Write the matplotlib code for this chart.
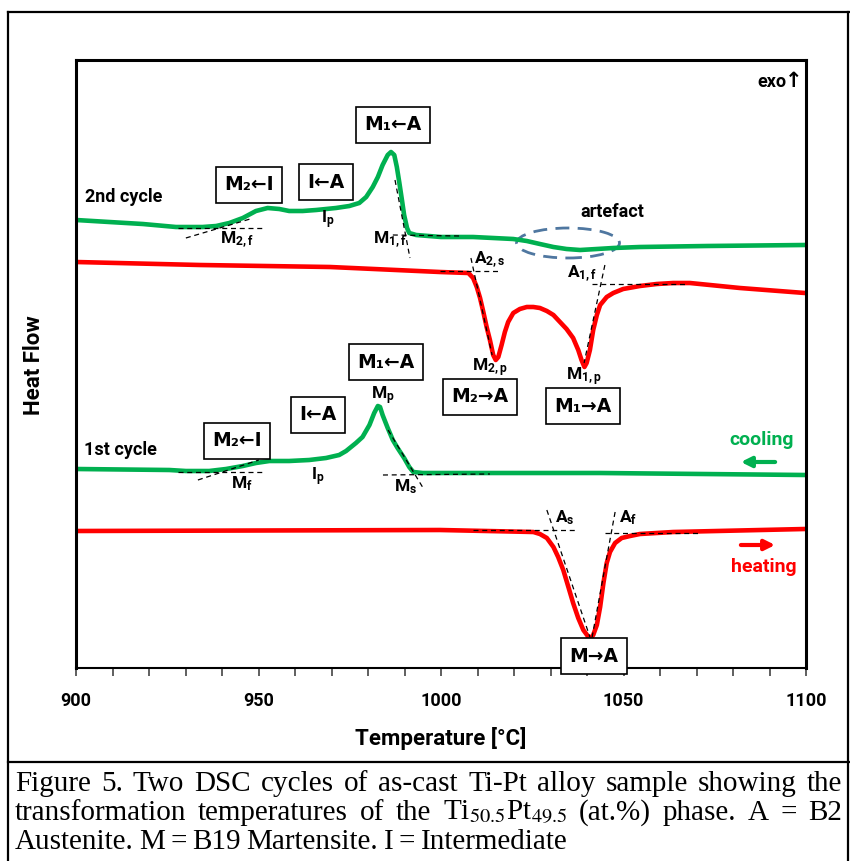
import numpy as np
import matplotlib
matplotlib.use('Agg')
import matplotlib.pyplot as plt
from matplotlib.patches import Ellipse
from matplotlib.lines import Line2D

plt.rcParams['font.family'] = ['Roboto', 'DejaVu Sans']
plt.rcParams['mathtext.fontset'] = 'custom'
plt.rcParams['mathtext.rm'] = 'Roboto:bold'
plt.rcParams['mathtext.bf'] = 'Roboto:bold'
plt.rcParams['mathtext.it'] = 'Roboto:bold'
plt.rcParams['mathtext.fallback'] = 'stixsans'

GREEN = '#00B050'
RED = '#FF0000'
B = dict(fontweight='bold')

# 2nd cycle, cooling (temperature in degC, heat flow in arbitrary units)
t_cool2 = [900.0, 909.1, 918.3, 927.4, 934.7, 938.4, 942.0, 945.7, 949.3, 952.5, 955.7,
           958.4, 962.1, 965.8, 971.2, 974.9, 977.6, 979.5, 981.3, 982.7, 984.0, 985.4,
           986.3, 987.2, 987.9, 988.6, 989.3, 989.9, 990.7, 991.3, 993.2, 1000.0,
           1008.8, 1019.8, 1023.5, 1027.1, 1030.8, 1034.4, 1038.1, 1042.7, 1047.2,
           1054.5, 1072.8, 1099.7]
hf_cool2 = [44.8, 44.6, 44.4, 44.1, 44.1, 44.2, 44.5, 45.0, 45.7, 46.0, 45.9,
            45.7, 45.7, 45.8, 46.0, 46.2, 46.5, 47.1, 48.1, 49.1, 50.3, 51.3,
            51.6, 51.3, 50.1, 48.5, 46.8, 45.3, 44.0, 43.5, 43.3, 43.1,
            43.1, 42.9, 42.7, 42.4, 42.1, 41.9, 41.8, 41.9, 42.0,
            42.1, 42.2, 42.3]

# 2nd cycle, heating
t_heat2 = [900.0, 934.0, 969.6, 999.7, 1007.5, 1008.8, 1009.8, 1010.7, 1011.6, 1012.5,
           1013.4, 1014.3, 1015.0, 1015.7, 1016.6, 1017.5, 1018.4, 1019.8, 1021.6, 1023.5,
           1025.3, 1027.1, 1029.0, 1030.8, 1032.6, 1034.4, 1036.2, 1037.6, 1038.5, 1039.3,
           1039.9, 1040.8, 1041.7, 1042.7, 1043.6, 1045.4, 1047.2, 1049.9, 1054.5, 1059.1,
           1063.6, 1068.2, 1081.9, 1099.7]
hf_heat2 = [40.6, 40.3, 40.1, 39.6, 39.5, 39.0, 38.1, 37.0, 35.6, 34.1,
            32.8, 31.3, 30.8, 31.1, 32.3, 33.6, 34.6, 35.5, 35.9, 36.1,
            36.1, 36.0, 35.7, 35.3, 34.6, 33.9, 33.0, 31.8, 30.8, 30.1,
            30.5, 31.8, 33.8, 35.3, 36.3, 37.1, 37.5, 37.9, 38.2, 38.4,
            38.5, 38.5, 38.0, 37.5]

# 1st cycle, cooling
t_cool1 = [900.0, 925.6, 930.1, 936.5, 941.1, 945.7, 949.3, 953.0, 958.4, 963.9, 968.5,
           972.1, 974.0, 976.7, 978.5, 980.4, 981.7, 982.7, 983.3, 984.0, 985.4, 986.8,
           988.1, 989.9, 991.3, 992.4, 995.0, 1000.0, 1043.6, 1099.7]
hf_cool1 = [19.9, 19.8, 19.7, 19.7, 19.9, 20.2, 20.5, 20.7, 20.7, 20.8, 21.0,
            21.3, 21.7, 22.5, 23.1, 24.3, 25.5, 26.2, 26.1, 25.3, 24.0, 22.8,
            22.0, 21.0, 20.1, 19.6, 19.5, 19.5, 19.5, 19.3]

# 1st cycle, heating
t_heat1 = [900.0, 999.7, 1025.3, 1027.1, 1029.0, 1030.8, 1032.1, 1033.5, 1034.9, 1036.2,
           1037.6, 1039.0, 1040.4, 1041.0, 1041.7, 1042.7, 1043.6, 1044.5, 1045.4, 1046.3,
           1047.7, 1049.5, 1051.8, 1054.5, 1059.1, 1063.6, 1099.7]
hf_heat1 = [13.7, 13.8, 13.6, 13.4, 13.0, 12.1, 11.1, 9.8, 8.1, 6.5,
            5.0, 3.8, 3.1, 3.0, 3.3, 4.3, 6.1, 8.5, 10.5, 11.6,
            12.5, 13.0, 13.2, 13.4, 13.5, 13.6, 13.9]

# tangent construction lines (T1, HF1, T2, HF2)
tangents = [
    (927.9, 44.0, 951.2, 44.0), (930.1, 43.0, 947.7, 44.9),
    (986.8, 43.3, 1005.2, 43.2), (987.4, 48.8, 991.5, 41.0),
    (999.7, 39.7, 1015.6, 39.7), (1008.2, 41.0, 1014.0, 31.3),
    (1041.4, 38.4, 1067.4, 38.4), (1044.9, 40.3, 1039.2, 30.5),
    (927.9, 19.6, 951.2, 19.6), (933.4, 18.8, 950.1, 20.8),
    (984.1, 19.3, 1013.4, 19.4), (985.5, 23.8, 995.1, 18.0),
    (1008.8, 13.8, 1037.3, 13.8), (1029.0, 15.8, 1040.8, 3.1),
    (1044.9, 13.5, 1071.0, 13.5), (1047.7, 15.6, 1041.4, 3.1),
]

# boxed transformation labels
box_labels = ['M\u2081\u2190A', 'M\u2082\u2190I', 'I\u2190A', 'M\u2081\u2190A', 'I\u2190A',
              'M\u2082\u2190I', 'M\u2082\u2192A', 'M\u2081\u2192A', 'M\u2192A']
box_t = [986.8, 947.4, 968.5, 984.9, 966.3, 944.1, 1010.7, 1038.9, 1041.9]
box_hf = [54.3, 48.3, 48.6, 30.6, 25.3, 22.7, 27.1, 26.2, 1.2]

# characteristic temperature labels
pt_labels = [r'$\mathbf{M_{2,f}}$', r'$\mathbf{I_p}$', r'$\mathbf{M_{1,f}}$', r'$\mathbf{A_{2,s}}$',
             r'$\mathbf{A_{1,f}}$', r'$\mathbf{M_{2,p}}$', r'$\mathbf{M_{1,p}}$', r'$\mathbf{M_p}$',
             r'$\mathbf{I_p}$', r'$\mathbf{M_f}$', r'$\mathbf{M_s}$', r'$\mathbf{A_s}$', r'$\mathbf{A_f}$']
pt_t = [944.1, 969.0, 986.0, 1013.4, 1038.6, 1013.4, 1039.2, 984.1, 966.3, 945.5, 990.4, 1034.0, 1051.2]
pt_hf = [42.8, 44.8, 42.8, 40.8, 39.4, 30.0, 29.1, 27.2, 19.1, 18.4, 18.1, 15.0, 15.0]

W, H = 850, 861
fig = plt.figure(figsize=(W / 100, H / 100), dpi=100)
ax = fig.add_axes([76 / W, 1 - 668 / H, 730 / W, 608 / H])

ax.plot(t_cool2, hf_cool2, color=GREEN, lw=3.3)
ax.plot(t_heat2, hf_heat2, color=RED, lw=3.3)
ax.plot(t_cool1, hf_cool1, color=GREEN, lw=3.3)
ax.plot(t_heat1, hf_heat1, color=RED, lw=3.3)

for x1, y1, x2, y2 in tangents:
    ax.plot([x1, x2], [y1, y2], color='black', lw=0.9, ls=(0, (4, 3)))

ax.add_patch(Ellipse((1034.8, 42.5), 28.2, 3.0, fill=False, edgecolor='#4F77A0',
                     lw=2, ls=(0, (5, 3))))

for s, x, y in zip(box_labels, box_t, box_hf):
    ax.text(x, y, s, ha='center', va='center', fontsize=13.5, family='DejaVu Sans', **B,
            bbox=dict(boxstyle='square,pad=0.45', fc='white', ec='black', lw=1.2))

for s, x, y in zip(pt_labels, pt_t, pt_hf):
    ax.text(x, y, s, ha='center', va='center', fontsize=12.5)

ax.text(902.5, 47.1, '2nd cycle', ha='left', va='center', fontsize=13, **B)
ax.text(902.2, 21.8, '1st cycle', ha='left', va='center', fontsize=13, **B)
ax.text(1046.8, 45.6, 'artefact', ha='center', va='center', fontsize=13, **B)
ax.text(1094.6, 58.6, 'exo', ha='right', va='center', fontsize=13, **B)
ax.text(1094.2, 58.7, '\u2191', ha='left', va='center', fontsize=15, family='DejaVu Sans', **B)
ax.text(1087.9, 22.8, 'cooling', ha='center', va='center', fontsize=14, color=GREEN, **B)
ax.text(1088.5, 10.1, 'heating', ha='center', va='center', fontsize=14, color=RED, **B)
ax.annotate('', xy=(1081.4, 20.6), xytext=(1092.3, 20.6),
            arrowprops=dict(arrowstyle='-|>,head_length=0.6,head_width=0.3', color=GREEN, lw=3))
ax.annotate('', xy=(1092.3, 12.3), xytext=(1081.4, 12.3),
            arrowprops=dict(arrowstyle='-|>,head_length=0.6,head_width=0.3', color=RED, lw=3))

ax.set_xlim(900, 1100)
ax.set_ylim(0, 60.8)
ax.set_xticks(np.arange(900, 1101, 50))
ax.set_xticks(np.arange(900, 1101, 10), minor=True)
ax.set_yticks([])
ax.tick_params(axis='x', which='both', direction='out', length=6, width=1.2, color='#444444')
ax.tick_params(axis='x', which='major', pad=11, labelsize=13)
for lab in ax.get_xticklabels():
    lab.set_fontweight('bold')
for side in ['left', 'top', 'right']:
    ax.spines[side].set_linewidth(2.2)
ax.spines['bottom'].set_linewidth(1.5)

ax.set_xlabel('Temperature [\u00b0C]', fontsize=16, **B)
ax.xaxis.set_label_coords(0.5, -0.097)
ax.set_ylabel('Heat Flow', fontsize=16, **B)
ax.yaxis.set_label_coords(-0.042, 0.498)

# outer frame of the figure panel
for xs, ys in [([8, 8], [12, 861]), ([8, 850], [12, 12]), ([848, 848], [12, 861]),
               ([8, 850], [762, 762])]:
    fig.add_artist(Line2D([x / W for x in xs], [1 - y / H for y in ys], color='black', lw=1.6))

# caption, justified lines
cap_lines = [
    ['Figure', '5.', 'Two', 'DSC', 'cycles', 'of', 'as-cast', 'Ti-Pt', 'alloy', 'sample', 'showing', 'the'],
    ['transformation', 'temperatures', 'of', 'the', r'Ti$_{\mathrm{50.5}}$Pt$_{\mathrm{49.5}}$', '(at.%)',
     'phase.', 'A', '=', 'B2'],
    ['Austenite.', 'M', '=', 'B19', 'Martensite.', 'I', '=', 'Intermediate'],
]
cap_base = [791, 820, 849]
renderer = fig.canvas.get_renderer()
for i, (words, yb) in enumerate(zip(cap_lines, cap_base)):
    texts = [fig.text(0, 1 - yb / H, w, fontsize=21, fontweight='normal', family='Liberation Serif',
                      math_fontfamily='stix', va='baseline', ha='left') for w in words]
    widths = [t.get_window_extent(renderer).width for t in texts]
    x0, x1 = 15, 842
    if i < 2:
        gap = (x1 - x0 - sum(widths)) / (len(words) - 1)
    else:
        gap = 5.5
    x = x0
    for t, w in zip(texts, widths):
        t.set_x(x / W)
        x += w + gap

fig.savefig('out.png', dpi=100)
